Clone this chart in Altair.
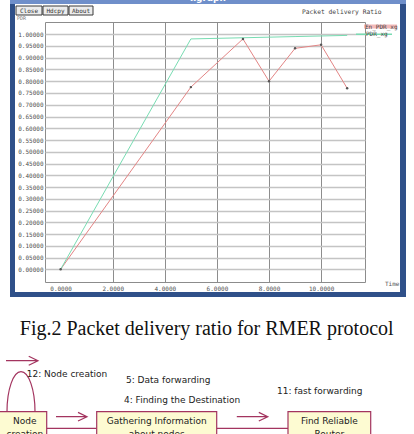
import altair as alt
import pandas as pd

# ---------------- data ----------------
series_names = ["En_PDR_xg", "PDR_xg"]
en_time = [0, 5, 7, 8, 9, 10, 11]
en_pdr = [0.0, 0.775, 0.98, 0.80, 0.94, 0.955, 0.77]
pdr_time = [0, 5, 7, 9, 11]
pdr_vals = [0.0, 0.98, 0.985, 0.99, 0.995]
x_tick_values = [0, 2, 4, 6, 8, 10]
y_tick_values = [0.0, 0.05, 0.1, 0.15, 0.2, 0.25, 0.3, 0.35, 0.4, 0.45, 0.5,
                 0.55, 0.6, 0.65, 0.7, 0.75, 0.8, 0.85, 0.9, 0.95, 1.0]
window_title = "xgraph"
chart_title = "Packet delivery Ratio"
x_title = "Time"
y_title = "PDR"
button_names = ["Close", "Hdcpy", "About"]
caption = "Fig.2 Packet delivery ratio for RMER protocol"
diagram_labels = ["12: Node creation", "5: Data forwarding",
                  "4: Finding the Destination", "11: fast forwarding"]
box_lines = [["Node", "creation"], ["Gathering Information", "about nodes"],
             ["Find Reliable", "Router"]]

# ---------------- layout (page pixels) ----------------
W, H = 414, 434
PL, PT, PW, PH = 45, 22, 320, 260
X_DOMAIN = [-0.6, 11.685]
Y_DOMAIN = [-0.054, 1.052]
RED = "#e38585"
GREEN = "#78dcb2"
FRAME = "#2f5089"
MAROON = "#a3345f"
MONO = "DejaVu Sans Mono"


def px(v):
    return v - PL


def py(v):
    return v - PT


def XP(f):
    return alt.X(f, type="quantitative", scale=None, axis=None)


def YP(f):
    return alt.Y(f, type="quantitative", scale=None, axis=None)


def rect_layer(boxes, **style):
    df = pd.DataFrame([{"x": px(a), "y": py(b), "x2": px(c), "y2": py(d)}
                       for a, b, c, d in boxes])
    return alt.Chart(df).mark_rect(**style).encode(
        x=XP("x"), x2=alt.X2("x2:Q"), y=YP("y"), y2=alt.Y2("y2:Q"))


def rule_layer(segs, **style):
    df = pd.DataFrame([{"x": px(a), "y": py(b), "x2": px(c), "y2": py(d)}
                       for a, b, c, d in segs])
    return alt.Chart(df).mark_rule(**style).encode(
        x=XP("x"), x2=alt.X2("x2:Q"), y=YP("y"), y2=alt.Y2("y2:Q"))


def text_layer(items, **style):
    df = pd.DataFrame([{"x": px(a), "y": py(b), "t": t} for a, b, t in items])
    return alt.Chart(df).mark_text(**style).encode(
        x=XP("x"), y=YP("y"), text="t:N")


def symbol_layer(items, shape, size, **style):
    df = pd.DataFrame([{"x": px(a), "y": py(b)} for a, b in items])
    return alt.Chart(df).mark_point(shape=shape, size=size, filled=False,
                                    opacity=1, **style).encode(
        x=XP("x"), y=YP("y"))


# ---------------- window chrome ----------------
borders = rect_layer([(10, 0, 15, 297), (400, 0, 406, 297),
                      (10, 292, 406, 297)], color=FRAME)
title_bar = rect_layer([(10, 0, 406, 4)], color="#6f8fca")
title_txt = text_layer([(208, 3, window_title)], font="DejaVu Sans",
                       fontSize=9, fontWeight="bold", color="white",
                       baseline="bottom", align="center")
btn_boxes = [(16, 6, 42, 15), (43, 6, 68, 15), (69, 6, 93, 15)]
buttons = rect_layer(btn_boxes, fill="#ececec", stroke="#3a3a3a",
                     strokeWidth=1)
btn_txt = text_layer([((b[0] + b[2]) / 2, 10.8, n)
                      for b, n in zip(btn_boxes, button_names)],
                     font=MONO, fontSize=6, color="#333",
                     align="center", baseline="middle")
head_txt = text_layer([(302, 12, chart_title)], font=MONO, fontSize=6.3,
                      color="#444", align="left", baseline="middle")
ylab_txt = text_layer([(17, 17.5, y_title)], font=MONO, fontSize=5,
                      color="#777", align="left", baseline="middle")
xlab_txt = text_layer([(385, 284, x_title)], font=MONO, fontSize=6,
                      color="#555", align="left", baseline="middle")

# legend (xgraph style: colour band behind the file names)
legend_bands = alt.layer(
    rule_layer([(364, 26.5, 397, 26.5)], color="#f3b9b9", strokeWidth=4),
    rule_layer([(356, 34.3, 392, 34.3)], color=GREEN, strokeWidth=1.5),
)
legend_txt = text_layer([(365, 26.5, series_names[0]),
                         (366, 34.3, series_names[1])],
                        font=MONO, fontSize=6, color="#444",
                        align="left", baseline="middle")

# ---------------- data layers ----------------
df = pd.DataFrame({
    "time": en_time + pdr_time,
    "pdr": en_pdr + pdr_vals,
    "series": [series_names[0]] * len(en_time) + [series_names[1]] * len(pdr_time),
})

x_axis = alt.Axis(values=x_tick_values, format=".4f", title=None,
                  ticks=False, domain=False, grid=True, gridColor="#8d8d8d",
                  gridWidth=1,
                  gridOpacity={"condition": {"test": "datum.value === 0",
                                             "value": 0}, "value": 1},
                  labelFont=MONO, labelFontSize=6, labelColor="#505050",
                  labelPadding=3, labelFlush=False, labelOverlap=False)
y_axis = alt.Axis(values=y_tick_values, format=".5f", title=None,
                  ticks=False, domain=False, grid=True, gridColor="#c4c4c4",
                  gridWidth=1.4, labelFont=MONO, labelFontSize=6,
                  labelColor="#505050", labelPadding=2, labelFlush=False,
                  labelOverlap=False)
x_enc = alt.X("time:Q", scale=alt.Scale(domain=X_DOMAIN, nice=False, zero=False),
              axis=x_axis)
y_enc = alt.Y("pdr:Q", scale=alt.Scale(domain=Y_DOMAIN, nice=False, zero=False),
              axis=y_axis)

lines = alt.Chart(df).mark_line(strokeWidth=1).encode(
    x=x_enc, y=y_enc,
    color=alt.Color("series:N", scale=alt.Scale(domain=series_names,
                                                range=[RED, GREEN]),
                    legend=None),
)
markers = alt.Chart(df).transform_filter(
    alt.datum.series == series_names[0]
).mark_point(filled=True, size=6, color="#555", opacity=1).encode(x=x_enc, y=y_enc)

# ---------------- caption ----------------
caption_txt = text_layer([(206.7, 335, caption)], font="Liberation Serif",
                         fontSize=20, color="#111", align="center",
                         baseline="alphabetic")

# ---------------- diagram ----------------
ARROW = "M -1 0 L 1 0 M 0.42 -0.28 L 1 0 L 0.42 0.28"
LOOP = "M -0.7 1 C -0.7 -0.1046 -0.3866 -1 0 -1 C 0.3866 -1 0.7 -0.1046 0.7 1"
arrows = alt.layer(
    symbol_layer([(22, 360.7)], ARROW, 1024, stroke=MAROON, strokeWidth=1.2),
    symbol_layer([(71.5, 416.7), (252.3, 416.7)], ARROW, 961, stroke=MAROON,
                 strokeWidth=1.2),
)
loop = symbol_layer([(21, 391.7)], LOOP, 1600, stroke=MAROON, strokeWidth=1.2)
connectors = rule_layer([(46.7, 428.3, 96.7, 428.3), (216.7, 428.3, 288, 428.3)],
                        color=MAROON, strokeWidth=1.2)
box_rects = [(-1, 411.7, 46.7, 445), (96.7, 411.7, 216.7, 445),
             (288, 411.7, 370.7, 445)]
boxes = rect_layer(box_rects, fill="#fdfbd2", stroke=MAROON, strokeWidth=1.2)
label_pos = [(26.7, 374), (126, 380), (124, 400), (277, 391)]
diag_txt = text_layer([(p[0], p[1], t) for p, t in zip(label_pos, diagram_labels)],
                      font="DejaVu Sans", fontSize=9, color="#222",
                      align="left", baseline="middle")
box_items = []
for b, ls in zip(box_rects, box_lines):
    cx = (max(b[0], 0) + b[2]) / 2 + (1.5 if b[0] < 0 else 0)
    box_items.append((cx, 420.7, ls[0]))
    box_items.append((cx, 433.5, ls[1]))
box_txt = text_layer(box_items, font="DejaVu Sans", fontSize=9, color="#222",
                     align="center", baseline="middle")

chart = alt.layer(
    borders, title_bar, title_txt, buttons, btn_txt, head_txt, ylab_txt,
    xlab_txt, lines, markers, legend_bands, legend_txt, caption_txt,
    connectors, boxes, loop, arrows, diag_txt, box_txt,
).properties(
    width=PW, height=PH,
    padding={"left": PL, "top": PT, "right": W - PL - PW, "bottom": H - PT - PH},
    autosize=alt.AutoSizeParams(type="none"),
    background="white",
).configure_view(stroke="#8c8c8c", strokeWidth=1, fill="white")

chart.save("out.html", embed_options={"renderer": "svg", "actions": False})
